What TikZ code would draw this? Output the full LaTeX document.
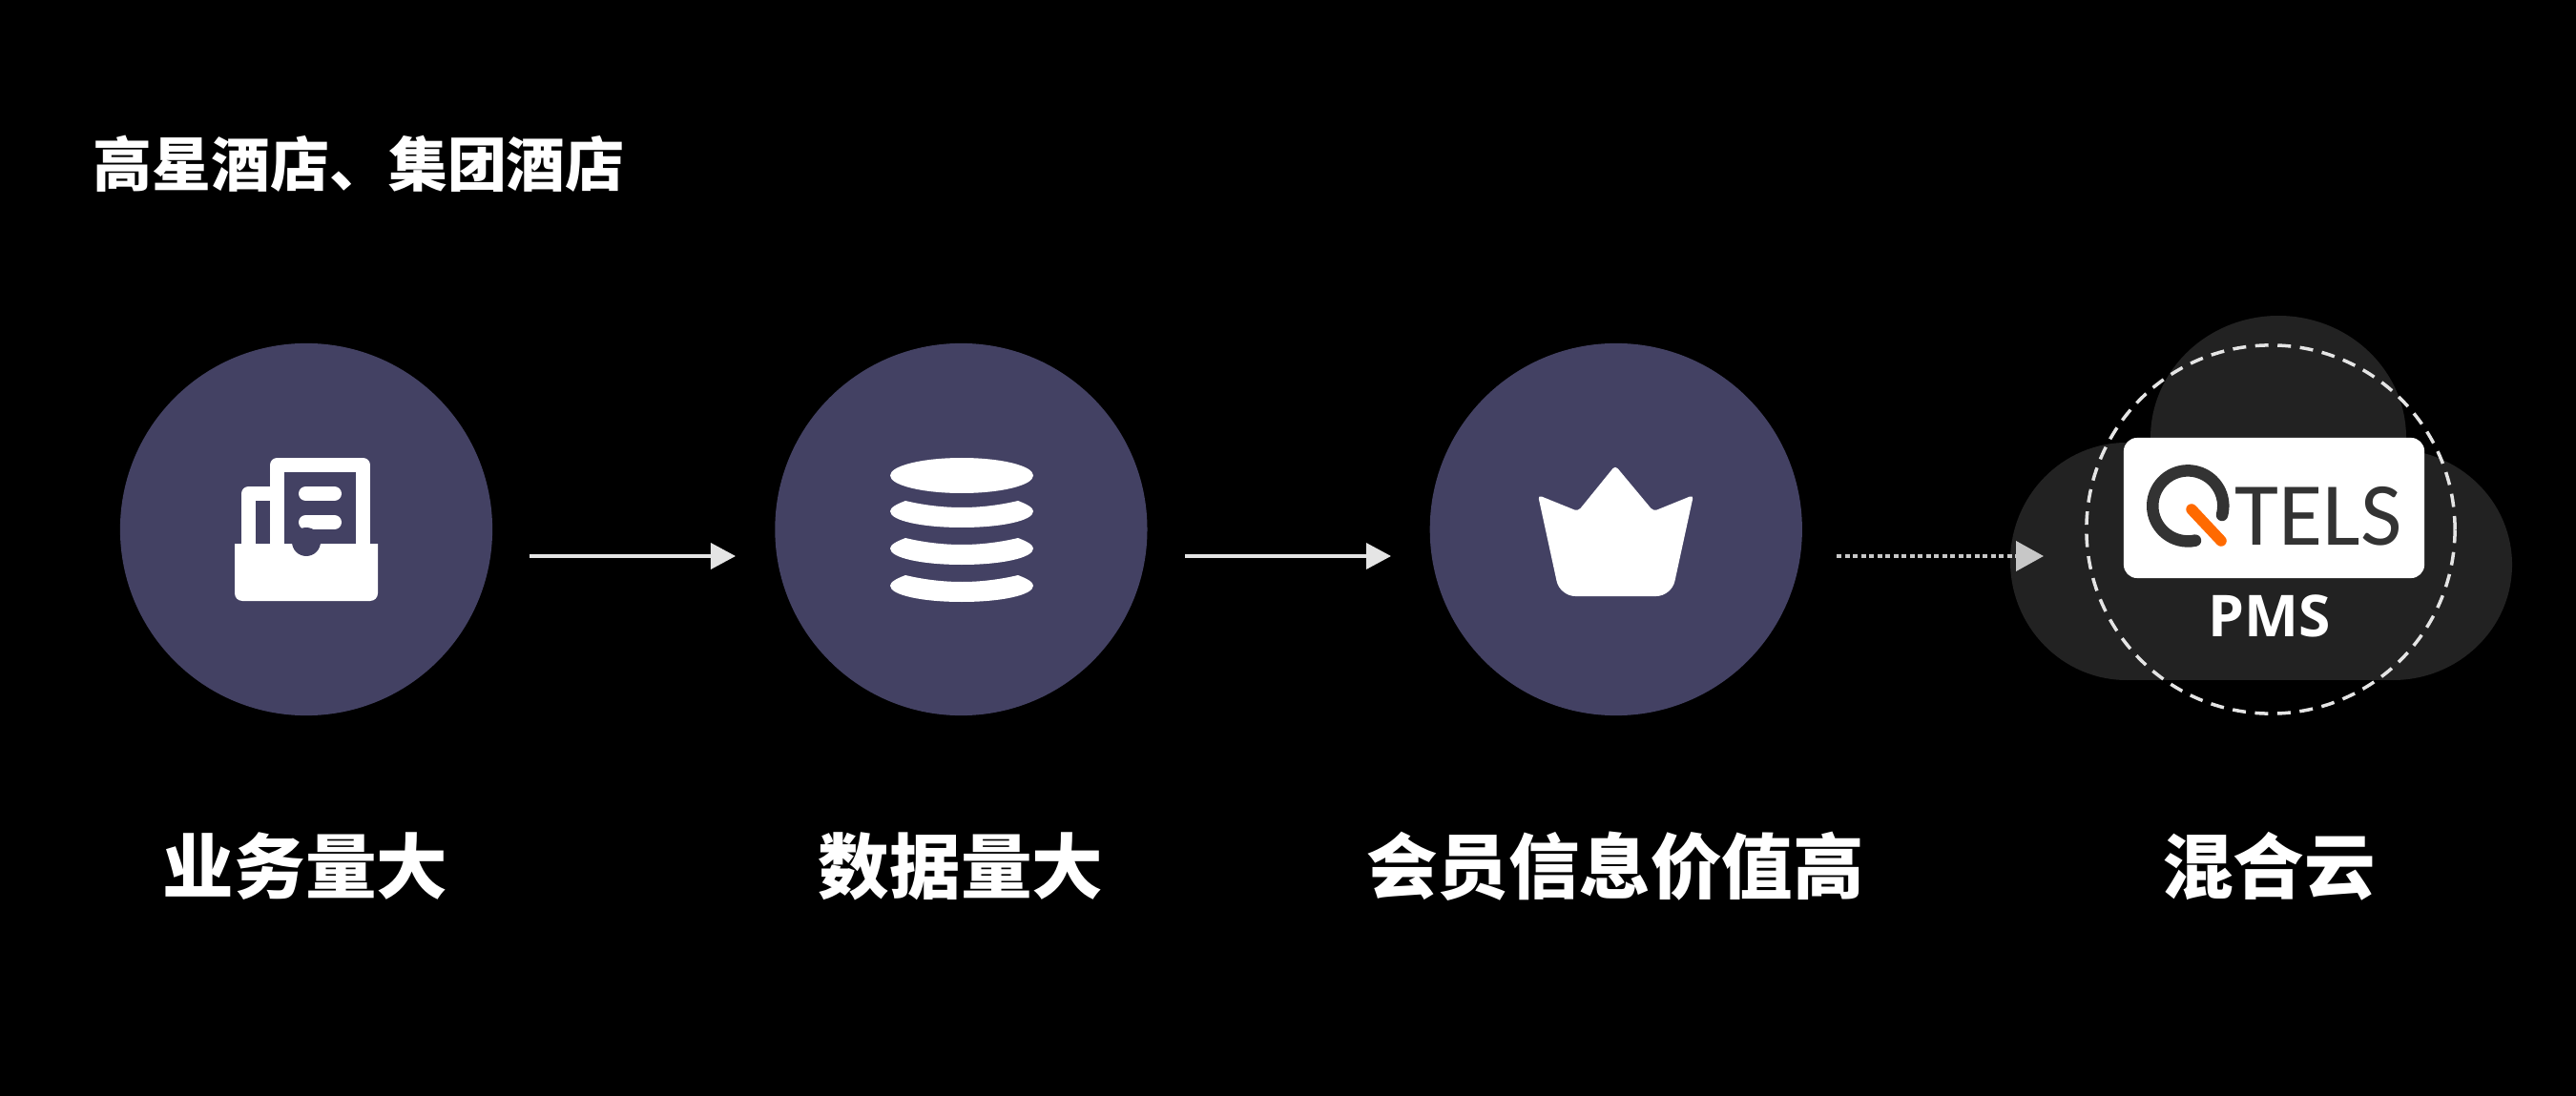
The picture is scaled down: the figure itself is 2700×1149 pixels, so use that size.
\documentclass[tikz,border=0pt]{standalone}
\usepackage{fontspec}
\newfontfamily\cjk{Noto Sans CJK SC}
\newfontfamily\pmsfont{Open Sans}
\newfontfamily\logofont{Carlito}
\usetikzlibrary{positioning,arrows.meta}
\definecolor{hubcolor}{HTML}{434163}
\definecolor{cloudcolor}{HTML}{222222}
\definecolor{logocolor}{HTML}{333333}
\definecolor{logoorange}{HTML}{FF6A00}
\tikzset{
  hub node/.style={circle,fill=hubcolor,minimum size=3.9cm,inner sep=0pt},
  label node/.style={text=white,font=\cjk\bfseries\fontsize{21.2}{25}\selectfont,inner sep=0pt},
  solid arrow/.style={-{Triangle[length=.26cm,width=.27cm]},draw=black!10,line width=.035cm},
  dotted arrow/.style={-{Triangle[length=.29cm,width=.31cm]},draw=black!22,line width=.04cm,dash pattern=on .05cm off .035cm},
  icon stroke/.style={draw=white,line width=.15cm,line join=round},
}
\begin{document}
\begin{tikzpicture}[x=.01cm,y=-.01cm,node distance=6.86cm]
    \fill[black] (0,0) rectangle (2700,1149);
    \useasboundingbox (0,0) rectangle (2700,1149);

    \node[text=white,font=\cjk\bfseries\fontsize{17.6}{21}\selectfont,inner sep=0pt,anchor=west] (title) at (97,172) {高星酒店、集团酒店};

    \node[hub node] (hub1) at (321,555) {};
    \node[hub node] (hub2) [right of=hub1] {};
    \node[hub node] (hub3) [right of=hub2] {};

    % icon 1
    \draw[icon stroke] (290.5,570) -- (290.5,487.5) -- (380.5,487.5) -- (380.5,570);
    \draw[icon stroke] (260.5,570) -- (260.5,517.5) -- (290.5,517.5);
    \draw[icon stroke,line cap=round] (320.5,517.5) -- (350.5,517.5);
    \draw[icon stroke,line cap=round] (320.5,547.5) -- (350.5,547.5);
    \fill[white] (246,570) [rounded corners=.08cm] -- (246,630) -- (396,630) [sharp corners] -- (396,570) -- cycle;
    \fill[hubcolor] (321,568) circle [radius=15];

    % icon 2
    \fill[white] (1008,498.5) ellipse [x radius=75,y radius=18.5];
    \foreach \dy in {0,39,78}
        \fill[white,yshift=-\dy*.01cm] (949,525) .. controls (970,530) and (990,532) .. (1008,532)
            .. controls (1026,532) and (1046,530) .. (1067,525)
            .. controls (1076,528.5) and (1083,532) .. (1083,536)
            .. controls (1083,546) and (1049,553) .. (1008,553)
            .. controls (967,553) and (933,546) .. (933,536)
            .. controls (933,532) and (940,528.5) .. (949,525) -- cycle;

    % icon 3
    \fill[white,rounded corners=.04cm] (1693,488) -- (1733,536) -- (1775,519) [rounded corners=.16cm] -- (1752,625) -- (1635,625) [rounded corners=.04cm] -- (1612,519) -- (1654,536) -- cycle;

    % cloud
    \fill[cloudcolor] (2388,459) ellipse [x radius=134,y radius=128];
    \fill[cloudcolor] (2229,588.5) ellipse [x radius=122,y radius=124.5];
    \fill[cloudcolor] (2508,592) ellipse [x radius=125,y radius=121];
    \fill[cloudcolor] (2229,500) rectangle (2508,713);

    \node[circle,draw=white!90!black,line width=.035cm,dash pattern=on .14cm off .095cm,minimum size=3.86cm,inner sep=0pt] (ring) at (2380,555) {};
    \node[fill=white,rounded corners=.14cm,minimum width=3.15cm,minimum height=1.47cm,inner sep=0pt] (logo) at (2383.5,532.5) {};

    % logo
    \draw[logocolor,line width=.125cm,line cap=round] (2329,540) arc [start angle=-15,end angle=282,radius=.37cm];
    \draw[logoorange,line width=.115cm,line cap=round] (2297,534) -- (2328,567);
    \node[text=logocolor,font=\logofont\fontsize{26.8}{30}\selectfont,inner sep=0pt,anchor=base] (tels) at (2430,571) {TELS};
    \node[text=white,font=\pmsfont\bfseries\fontsize{17.2}{20}\selectfont,inner sep=0pt] (pms) at (2379,646) {PMS};

    % arrows
    \coordinate (a1) at (555,583);
    \coordinate (b1) at (771,583);
    \coordinate (a2) at (1242,583);
    \coordinate (b2) at (1458,583);
    \coordinate (a3) at (1925,583);
    \coordinate (b3) at (2142,583);
    \draw[solid arrow] (a1) -- (b1);
    \draw[solid arrow] (a2) -- (b2);
    \draw[dotted arrow] (a3) -- (b3);

    % labels
    \node[label node] (lab1) at (320,908) {业务量大};
    \node[label node] (lab2) at (1007,908) {数据量大};
    \node[label node] (lab3) at (1693,908) {会员信息价值高};
    \node[label node] (lab4) at (2378,908) {混合云};
\end{tikzpicture}
\end{document}
